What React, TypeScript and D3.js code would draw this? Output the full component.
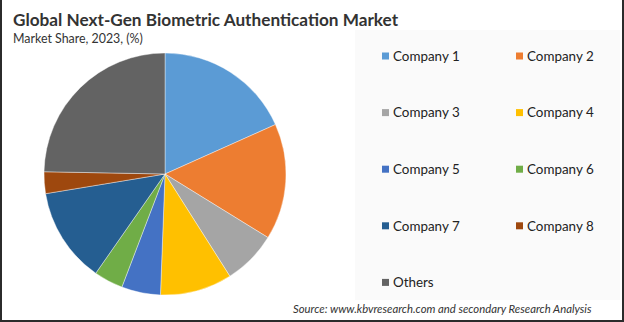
import React from "react";
import * as d3 from "d3";

const categories = ["Company 1", "Company 2", "Company 3", "Company 4", "Company 5", "Company 6", "Company 7", "Company 8", "Others"];
const shares = [18.3, 15.5, 7.2, 9.6, 5.2, 3.9, 12.7, 2.9, 24.7];
const colors = ["#5B9BD5", "#ED7D31", "#A5A5A5", "#FFC000", "#4472C4", "#70AD47", "#255E91", "#9E480E", "#636363"];

const title = "Global Next-Gen Biometric Authentication Market";
const subtitle = "Market Share, 2023, (%)";
const source = "Source: www.kbvresearch.com and secondary Research Analysis";

export default function App() {
  const W = 624, H = 322;
  const cx = 165, cy = 174, r = 121;
  const pie = d3.pie<number>().sort(null).value((d) => d);
  const arcs = pie(shares);
  const arcGen = d3.arc<d3.PieArcDatum<number>>().innerRadius(0).outerRadius(r);
  const font = "Lato, 'Open Sans', sans-serif";

  return (
    <svg width={W} height={H} style={{ position: "absolute", left: 0, top: 0 }}>
      <rect x={0} y={0} width={W} height={H} fill="#ffffff" />
      <rect x={355} y={30} width={265} height={270} fill="#fafafa" />
      <text x={13} y={25.5} fontFamily={font} fontWeight="bold" fontSize={17.2} fill="#333">{title}</text>
      <text x={13} y={43} fontFamily={font} fontSize={12.4} fill="#333">{subtitle}</text>
      <g transform={`translate(${cx},${cy})`}>
        {arcs.map((a, i) => (
          <path key={i} d={arcGen(a) || ""} fill={colors[i]} stroke="#ffffff" strokeWidth={0.4} />
        ))}
      </g>
      {categories.map((c, i) => {
        const col = i % 2;
        const row = Math.floor(i / 2);
        const x = 382 + col * 134;
        const y = 56 + row * 56.6;
        return (
          <g key={c}>
            <rect x={x} y={y - 3.5} width={7} height={7} fill={colors[i]} />
            <text x={x + 11} y={y + 4.7} fontFamily={font} fontSize={13.4} fill="#222">{c}</text>
          </g>
        );
      })}
      <text x={293} y={313} fontFamily={font} fontStyle="italic" fontSize={11.3} fill="#333">{source}</text>
      <rect x={0} y={0} width={2} height={H} fill="#2b2b2b" />
      <rect x={W - 2} y={0} width={2} height={H} fill="#2b2b2b" />
      <rect x={0} y={H - 2} width={W} height={2} fill="#2b2b2b" />
    </svg>
  );
}
